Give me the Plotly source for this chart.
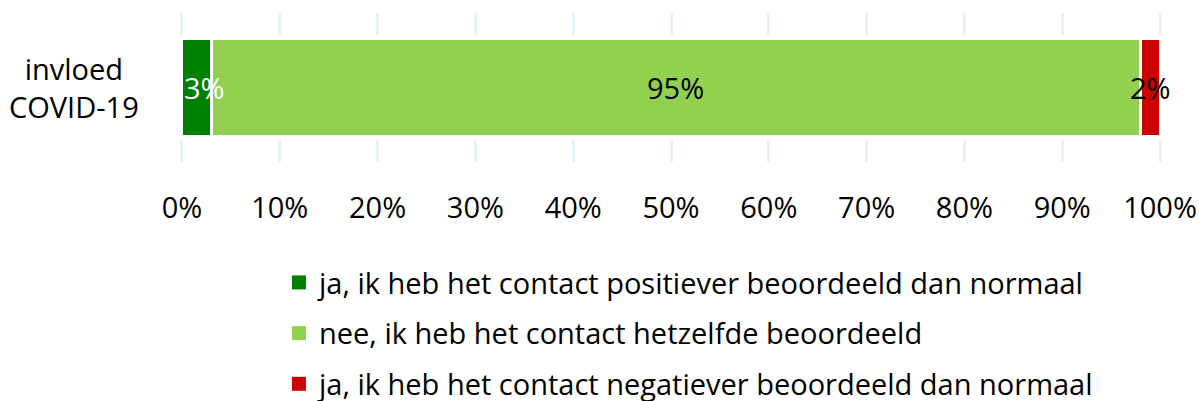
import plotly.graph_objects as go

categories = ["invloed<br>COVID-19"]
series_names = [
    "ja, ik heb het contact positiever beoordeeld dan normaal",
    "nee, ik heb het contact hetzelfde beoordeeld",
    "ja, ik heb het contact negatiever beoordeeld dan normaal",
]
series_values = [[3], [95], [2]]
series_colors = ["#008000", "#92d050", "#cc0000"]
label_colors = ["white", "black", "black"]
tick_vals = [0, 10, 20, 30, 40, 50, 60, 70, 80, 90, 100]
tick_text = [f"{v}%" for v in tick_vals]

FONT = "Open Sans"
FS = 29
fig = go.Figure()
for name, vals, col in zip(series_names, series_values, series_colors):
    fig.add_trace(go.Bar(
        y=[0] * len(vals), x=vals, orientation="h", name=name,
        marker=dict(color=col, line=dict(color="white", width=3)),
        width=0.655, showlegend=False, hoverinfo="x+name",
    ))
for i, (name, col) in enumerate(zip(series_names, series_colors)):
    fig.add_trace(go.Scatter(
        x=[None], y=[None], mode="markers", name=name, legendgroup=f"g{i}",
        marker=dict(symbol="square", size=14, color=col), showlegend=True,
    ))

# data labels on top of all bars
cum = 0
for vals, lc in zip(series_values, label_colors):
    v = vals[0]
    mid = cum + v / 2
    if mid < 3:
        fig.add_annotation(x=cum, y=0, xref="x", yref="y", text=f"{v}%", showarrow=False,
                           xanchor="left", yanchor="middle", xshift=0,
                           font=dict(size=FS, family=FONT, color=lc))
    else:
        fig.add_annotation(x=mid, y=0, xref="x", yref="y", text=f"{v}%", showarrow=False,
                           xanchor="center", yanchor="middle",
                           font=dict(size=FS, family=FONT, color=lc))
    cum += v

# white band masking gridlines behind the bar
fig.add_shape(type="rect", xref="x", yref="y", x0=-2, x1=102, y0=-0.352, y1=0.352,
              fillcolor="white", line=dict(width=0), layer="between")

fig.add_annotation(text=categories[0], xref="paper", yref="y", x=-0.108, y=0,
                   xanchor="center", yanchor="middle", showarrow=False, align="center",
                   font=dict(size=FS, family=FONT, color="black"))

fig.update_layout(
    width=1199, height=401, barmode="stack",
    margin=dict(l=180, r=37, t=13, b=239, autoexpand=False),
    paper_bgcolor="white", plot_bgcolor="white",
    font=dict(family=FONT, size=FS, color="black"),
    xaxis=dict(range=[-0.2, 100.2], tickvals=tick_vals, ticktext=tick_text, showgrid=True,
               gridcolor="#e3f3f6", gridwidth=3, zeroline=False, showline=False,
               ticks="", ticklabelstandoff=26, automargin=False,
               tickfont=dict(size=FS, family=FONT)),
    yaxis=dict(range=[-0.5, 0.5], showticklabels=False, showgrid=False, zeroline=False,
               automargin=False),
    legend=dict(orientation="v", x=0.1008, xanchor="left", y=-0.638, yanchor="top",
                traceorder="grouped", tracegroupgap=10, font=dict(size=FS, family=FONT)),
)
fig.write_html("out.html", config={"displayModeBar": False},
               post_script="document.body.style.margin='0px';")
